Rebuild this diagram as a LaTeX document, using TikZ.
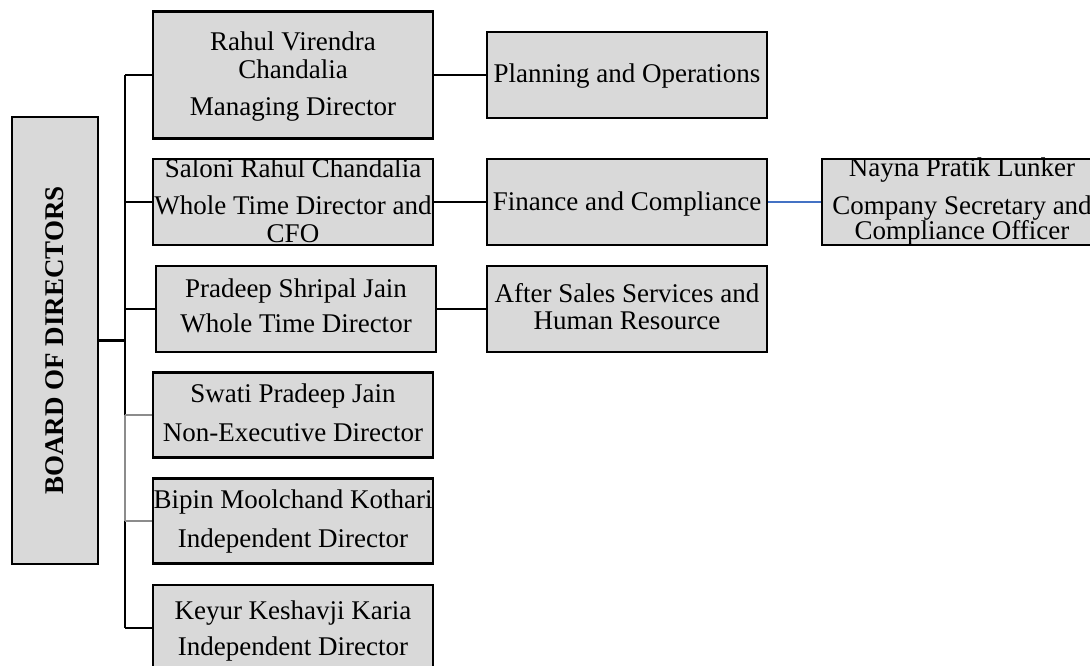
\documentclass[tikz,border=0pt]{standalone}
\usepackage{fontspec}
\setmainfont{Liberation Serif}
\newcommand\boxlines[2]{\makebox[0pt]{\raisebox{#1}[0pt][0pt]{\begin{tabular}[t]{@{}c@{}}#2\end{tabular}}}}
\definecolor{boxfill}{HTML}{D9D9D9}
\definecolor{linkblue}{HTML}{4472C4}
\definecolor{linkgray}{HTML}{8C8C8C}
\tikzset{
  orgbox/.style={draw=black, fill=boxfill, line width=1.9pt, inner sep=0pt,
    minimum width=210pt, minimum height=64.5pt,
    font=\fontsize{20.25}{21}\selectfont},
  boardbox/.style={orgbox, minimum width=64.5pt, minimum height=335pt},
  thickline/.style={draw=black, line width=1.8pt},
  thinline/.style={draw=black, line width=0.9pt},
  grayline/.style={draw=linkgray, line width=1.3pt},
  blueline/.style={draw=linkblue, line width=1.4pt}
}
\begin{document}
\begin{tikzpicture}[x=0.75pt, y=-0.75pt]
\useasboundingbox (0,0) rectangle (1090,666);
% board
\node[boardbox] (board) at (55,340.5) {\rotatebox[origin=c]{90}{\bfseries BOARD OF DIRECTORS}};
% directors
\node[orgbox, minimum height=95.25pt] (rahul) at (293,75) {\boxlines{18.375pt}{Rahul Virendra\\ Chandalia\\[6.75pt] Managing Director}};
\node[orgbox] (saloni) at (293,202) {\boxlines{18pt}{Saloni Rahul Chandalia\\[6.75pt] Whole Time Director and\\ CFO}};
\node[orgbox] (pradeep) at (296,309) {\boxlines{8.25pt}{Pradeep Shripal Jain\\[5.25pt] Whole Time Director}};
\node[orgbox, minimum height=63.75pt] (swati) at (293,415) {\boxlines{9pt}{Swati Pradeep Jain\\[8.25pt] Non-Executive Director}};
\node[orgbox, minimum height=63.75pt] (bipin) at (293,521) {\boxlines{9pt}{Bipin Moolchand Kothari\\[8.25pt] Independent Director}};
\node[orgbox] (keyur) at (293,628) {\boxlines{6pt}{Keyur Keshavji Karia\\[6pt] Independent Director}};
% functions
\node[orgbox] (planning) at (627,75) {\boxlines{-6pt}{Planning and Operations}};
\node[orgbox] (finance) at (627,202) {\boxlines{-6.75pt}{Finance and Compliance}};
\node[orgbox] (after) at (627,309) {\boxlines{4.5pt}{After Sales Services and\\[-0.75pt] Human Resource}};
\node[orgbox] (nayna) at (962,202) {\boxlines{18.75pt}{Nayna Pratik Lunker\\[7.5pt] Company Secretary and\\[-2.25pt] Compliance Officer}};
% trunk junctions
\coordinate (jr) at (125,75);
\coordinate (js) at (125,202);
\coordinate (jp) at (125,309);
\coordinate (jsw) at (125,415);
\coordinate (jb) at (125,521);
\coordinate (jk) at (125,628);
\coordinate (jboard) at (125,340.5);
% connectors
\draw[thickline] (board.east) -- (jboard);
\draw[thickline] (jr) -- (jsw);
\draw[grayline] (jsw) -- (jb);
\draw[thickline] (jb) -- (jk);
\draw[thickline] (jr) -- (rahul.west);
\draw[thinline] (js) -- (saloni.west);
\draw[thinline] (jp) -- (pradeep.west);
\draw[grayline] (jsw) -- (swati.west);
\draw[grayline] (jb) -- (bipin.west);
\draw[thickline] (jk) -- (keyur.west);
\draw[thickline] (rahul.east) -- (planning.west);
\draw[thickline] (saloni.east) -- (finance.west);
\draw[thickline] (pradeep.east) -- (after.west);
\draw[blueline] (finance.east) -- (nayna.west);
\end{tikzpicture}
\end{document}
